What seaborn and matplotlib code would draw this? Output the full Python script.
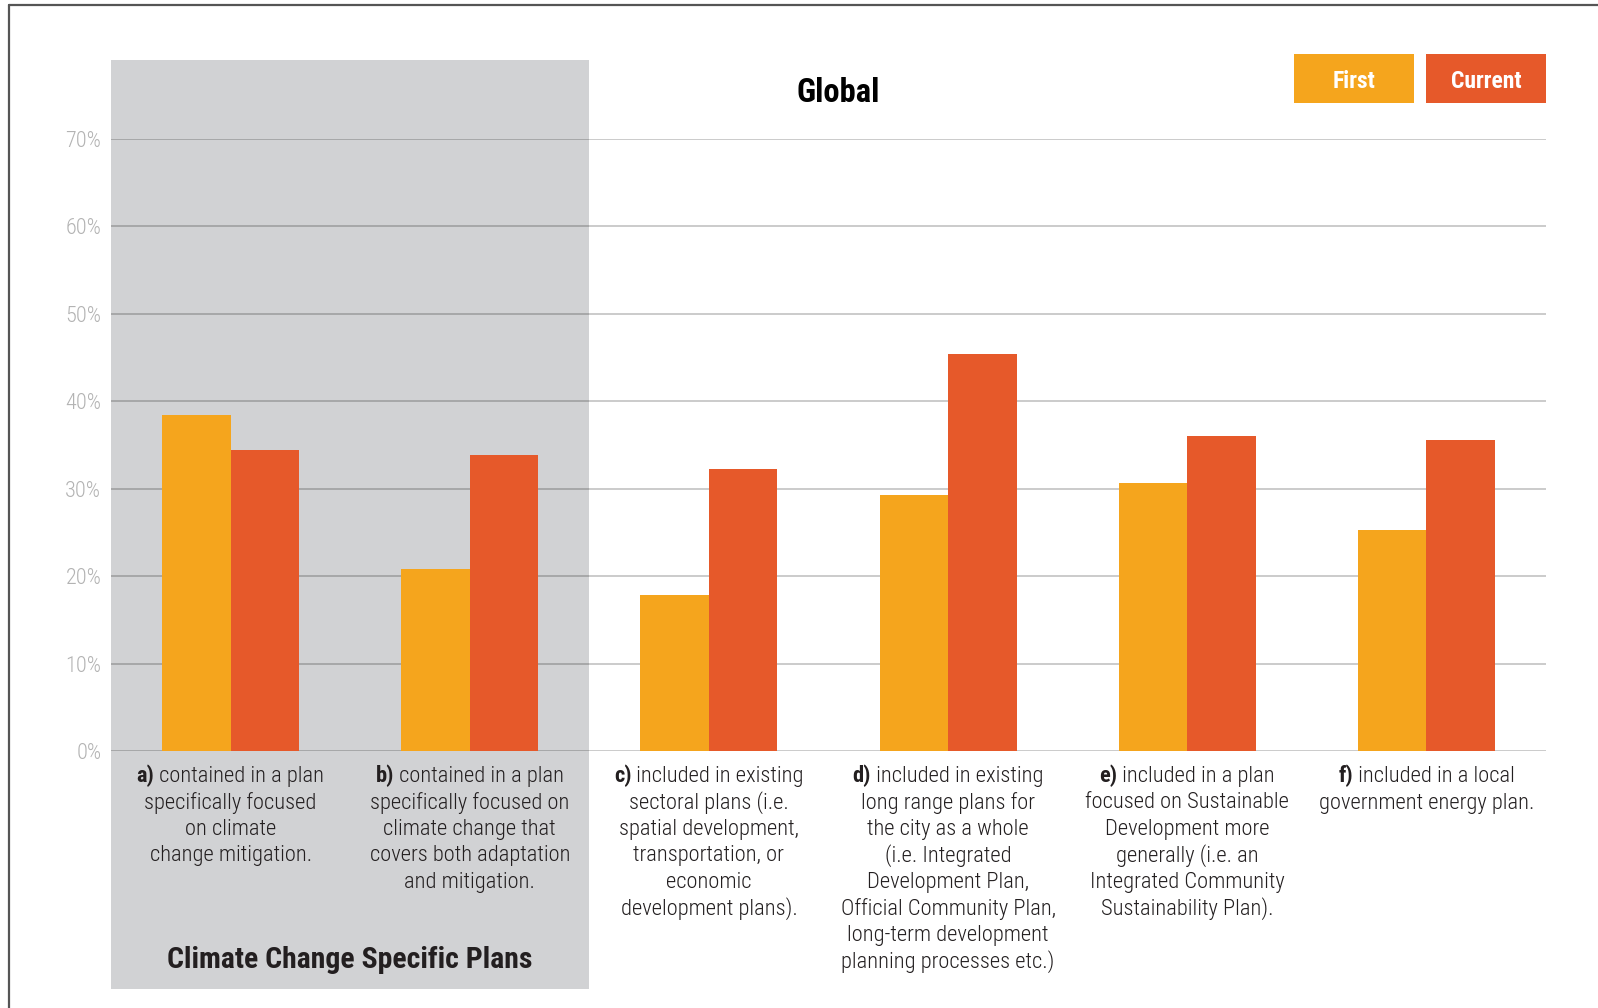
import matplotlib
matplotlib.use("Agg")
import matplotlib.pyplot as plt
from matplotlib import font_manager
from matplotlib.patches import Rectangle
from matplotlib.lines import Line2D
from matplotlib.transforms import blended_transform_factory, offset_copy
from matplotlib.ticker import FuncFormatter
import pandas as pd
import seaborn as sns

# ---- data -------------------------------------------------------------
categories = ["a", "b", "c", "d", "e", "f"]
label_prefixes = ["a)", "b)", "c)", "d)", "e)", "f)"]
label_bodies = [
    "contained in a plan\nspecifically focused\non climate\nchange mitigation.",
    "contained in a plan\nspecifically focused on\nclimate change that\ncovers both adaptation\nand mitigation.",
    "included in existing\nsectoral plans (i.e.\nspatial development,\ntransportation, or\neconomic\ndevelopment plans).",
    "included in existing\nlong range plans for\nthe city as a whole\n(i.e. Integrated\nDevelopment Plan,\nOfficial Community Plan,\nlong-term development\nplanning processes etc.)",
    "included in a plan\nfocused on Sustainable\nDevelopment more\ngenerally (i.e. an\nIntegrated Community\nSustainability Plan).",
    "included in a local\ngovernment energy plan.",
]
first_values = [38.4, 20.8, 17.8, 29.3, 30.7, 25.3]
current_values = [34.4, 33.8, 32.2, 45.4, 36.0, 35.6]
series_names = ["First", "Current"]
y_ticks = [0, 10, 20, 30, 40, 50, 60, 70]
title_text = "Global"
group_title = "Climate Change Specific Plans"

# ---- style ------------------------------------------------------------
COL_FIRST = "#F5A51D"
COL_CURRENT = "#E6592A"
COL_PANEL = "#D1D2D4"
COL_TEXT = "#231F20"
COL_TICK = "#B3B3B3"

sns.set_theme(style="white")

# prefer a narrow face when one is installed, otherwise scale text down
installed = {f.name for f in font_manager.fontManager.ttflist}
narrow = next((n for n in ["Roboto Condensed", "Liberation Sans Narrow",
                           "DejaVu Sans Condensed"] if n in installed), None)
if narrow:
    BASE = narrow
    SCALE = 1.0
else:
    BASE = "Liberation Sans" if "Liberation Sans" in installed else "DejaVu Sans"
    SCALE = 0.88
plt.rcParams["font.family"] = [BASE, "DejaVu Sans"]

W, H = 1598, 1008
fig = plt.figure(figsize=(W / 100, H / 100), dpi=100)
fig.patch.set_facecolor("white")

# axes placement in pixels
ax_left, ax_right, ax_top, ax_bottom = 111, 1546, 139, 751
ax = fig.add_axes([ax_left / W, (H - ax_bottom) / H,
                   (ax_right - ax_left) / W, (ax_bottom - ax_top) / H])
ax.set_facecolor("none")

df = pd.DataFrame({
    "category": categories * 2,
    "series": [series_names[0]] * len(categories) + [series_names[1]] * len(categories),
    "value": first_values + current_values,
})

sns.barplot(data=df, x="category", y="value", hue="series", order=categories,
            hue_order=series_names, palette=[COL_FIRST, COL_CURRENT],
            width=0.573, saturation=1, gap=0, linewidth=0, legend=False,
            errorbar=None, ax=ax, zorder=3)

ax.set_xlim(-0.5, len(categories) - 0.5)
ax.set_ylim(0, 70)
ax.set_yticks(y_ticks)
ax.yaxis.set_major_formatter(FuncFormatter(lambda v, p: f"{v:.0f}%"))
ax.tick_params(axis="y", length=0, pad=7, labelsize=16 * SCALE, labelcolor=COL_TICK)
for t in ax.get_yticklabels():
    t.set_fontweight("light")
ax.tick_params(axis="x", length=0)
ax.set_xticks(range(len(categories)))
ax.set_xticklabels([])
ax.set_xlabel("")
ax.set_ylabel("")
ax.grid(axis="y", color="black", alpha=0.22, linewidth=1.3)
ax.grid(axis="x", visible=False)
ax.set_axisbelow(True)
for s in ax.spines.values():
    s.set_visible(False)

# grey band behind the climate-specific categories
pan_top = (ax_bottom - 60) / (ax_bottom - ax_top)
pan_bot = (ax_bottom - 989) / (ax_bottom - ax_top)
ax.axvspan(-0.5, 1.5, ymin=pan_bot, ymax=pan_top, color=COL_PANEL,
           zorder=0, clip_on=False, linewidth=0)

# category descriptions under each pair of bars: bold letter, then body lines
trans = blended_transform_factory(ax.transData, ax.transAxes)
lab_y = (ax_bottom - 782) / (ax_bottom - ax_top)   # first baseline
lab_size = 16.2 * SCALE
pitch = 26.5                                        # pixels between lines
renderer = fig.canvas.get_renderer()
for i, (pre, body) in enumerate(zip(label_prefixes, label_bodies)):
    lines = body.split("\n")
    head = ax.text(i, lab_y, pre, transform=trans, ha="left", va="baseline",
                   fontsize=lab_size, fontweight="bold", color=COL_TEXT)
    rest = ax.text(i, lab_y, " " + lines[0], transform=trans, ha="left",
                   va="baseline", fontsize=lab_size, fontweight="light",
                   color=COL_TEXT)
    wh = head.get_window_extent(renderer).width
    wr = rest.get_window_extent(renderer).width
    start = -(wh + wr) / 2
    head.set_transform(offset_copy(trans, fig, x=start, y=0, units="dots"))
    rest.set_transform(offset_copy(trans, fig, x=start + wh, y=0, units="dots"))
    for k, line in enumerate(lines[1:], start=1):
        ax.text(i, lab_y, line, ha="center", va="baseline",
                transform=offset_copy(trans, fig, x=0, y=-k * pitch, units="dots"),
                fontsize=lab_size, fontweight="light", color=COL_TEXT)

ax.text(0.5, (ax_bottom - 960) / (ax_bottom - ax_top), group_title,
        transform=trans, ha="center", va="center", fontsize=21.4 * SCALE,
        fontweight="bold", color=COL_TEXT, clip_on=False)

fig.text(838 / W, 1 - 93 / H, title_text, ha="center", va="center",
         fontsize=23.5 * SCALE, fontweight="bold", color="black")

# colour key boxes
for name, col, x0 in [(series_names[0], COL_FIRST, 1294), (series_names[1], COL_CURRENT, 1426)]:
    fig.add_artist(Rectangle((x0 / W, 1 - 103 / H), 120 / W, 49 / H,
                             transform=fig.transFigure, color=col, linewidth=0))
    fig.text((x0 + 60) / W, 1 - 81 / H, name, ha="center", va="center",
             fontsize=17 * SCALE, fontweight="bold", color="white")

# page frame (top and left edges)
fig.add_artist(Line2D([9 / W, 1], [1 - 5 / H, 1 - 5 / H], transform=fig.transFigure,
                      color="#555555", linewidth=1.6))
fig.add_artist(Line2D([9 / W, 9 / W], [0, 1 - 5 / H], transform=fig.transFigure,
                      color="#555555", linewidth=1.6))

fig.savefig("out.png", dpi=100, facecolor="white")
